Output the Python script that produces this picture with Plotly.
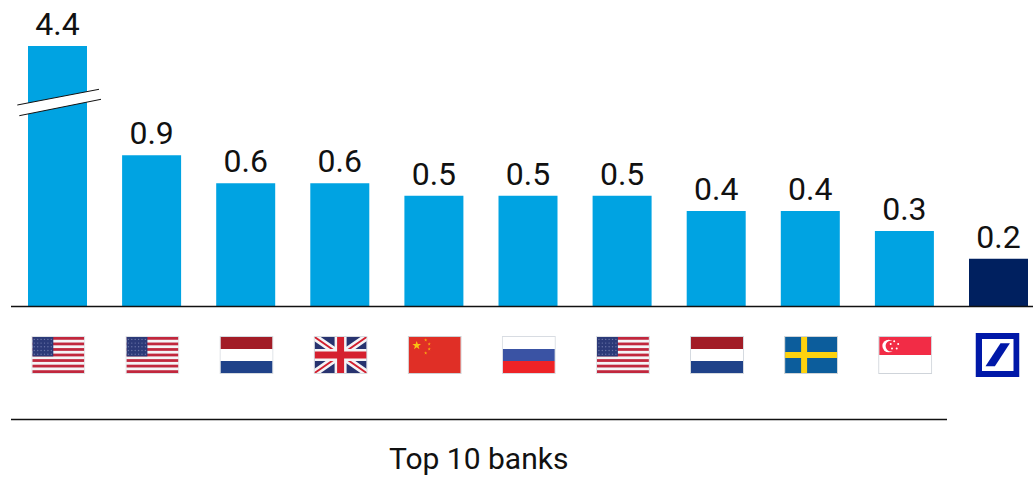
import base64
import math
import plotly.graph_objects as go

W, H = 1033, 477

# Position of each institution in the ranking and its home flag
ranks = list(range(1, 12))
flags = ["us", "us", "nl", "gb", "cn", "ru", "us", "nl", "se", "sg", "db"]
values = [4.4, 0.9, 0.6, 0.6, 0.5, 0.5, 0.5, 0.4, 0.4, 0.3, 0.2]
value_labels = ["4.4", "0.9", "0.6", "0.6", "0.5", "0.5", "0.5", "0.4", "0.4", "0.3", "0.2"]
bar_colors = ["#00A3E2"] * 10 + ["#00205F"]
footer_label = "Top 10 banks"

FONT = "Roboto"
INK = "#111111"
BASE_Y = 306.5
STEP = 94.1
FIRST_X = 57.5
DECADE_PX = 158.5


def px(x):
    return x / W


def py(y):
    return 1 - y / H


def star(cx, cy, r, fill):
    pts = []
    for i in range(10):
        a = -math.pi / 2 + i * math.pi / 5
        rad = r if i % 2 == 0 else r * 0.4
        pts.append(f"{cx + rad * math.cos(a):.2f},{cy + rad * math.sin(a):.2f}")
    return f'<polygon points="{" ".join(pts)}" fill="{fill}"/>'


def bands(colors):
    h = 36 / len(colors)
    return "".join(
        f'<rect x="0" y="{i * h}" width="52" height="{h + 0.2}" fill="{c}"/>' for i, c in enumerate(colors)
    )


def us_flag():
    h = 36 / 13
    out = '<rect width="52" height="36" fill="#f4f4f6"/>'
    for i in range(0, 13, 2):
        out += f'<rect y="{i * h:.2f}" width="52" height="{h:.2f}" fill="#c1273d"/>'
    out += '<rect width="21" height="19.4" fill="#2c3a78"/>'
    for row in range(5):
        for col in range(6):
            out += f'<circle cx="{2 + col * 3.4:.1f}" cy="{2.4 + row * 3.7:.1f}" r="0.7" fill="#6b75a8"/>'
    return out


def nl_flag():
    return bands(["#a21c26", "#ffffff", "#1f4289"])


def ru_flag():
    return bands(["#ffffff", "#3a53a4", "#ee2326"])


def gb_flag():
    return (
        '<rect width="52" height="36" fill="#28336f"/>'
        '<path d="M0 0L52 36M52 0L0 36" stroke="#f4f4f6" stroke-width="7"/>'
        '<path d="M0 0L52 36M52 0L0 36" stroke="#d2202f" stroke-width="2"/>'
        '<path d="M26 0V36M0 18H52" stroke="#f4f4f6" stroke-width="12"/>'
        '<path d="M26 0V36M0 18H52" stroke="#d5202f" stroke-width="7"/>'
    )


def cn_flag():
    out = '<rect width="52" height="36" fill="#e02f26"/>' + star(8, 8.5, 4.6, "#f8c312")
    for cx, cy in [(17, 3), (20.5, 7), (20.5, 12), (17, 16)]:
        out += star(cx, cy, 1.7, "#f8a812")
    return out


def se_flag():
    return (
        '<rect width="52" height="36" fill="#0c5d9c"/>'
        '<rect x="16" width="6" height="36" fill="#fdd20f"/>'
        '<rect y="15" width="52" height="6" fill="#fdd20f"/>'
    )


def sg_flag():
    out = (
        '<rect width="52" height="36" fill="#ffffff"/>'
        '<rect width="52" height="18" fill="#f22c46"/>'
        '<circle cx="9.5" cy="9" r="6.3" fill="#ffffff"/>'
        '<circle cx="12" cy="9" r="5.6" fill="#f22c46"/>'
    )
    for cx, cy in [(15, 4.2), (19, 7), (17.5, 11.5), (12.8, 11.5), (11.5, 7)]:
        out += f'<circle cx="{cx}" cy="{cy}" r="1" fill="#ffffff"/>'
    return out


FLAG_ART = {
    "us": (us_flag(), "#dfe2e6"),
    "nl": (nl_flag(), "#d5dae0"),
    "gb": (gb_flag(), "#d8dbe0"),
    "cn": (cn_flag(), "#cfd1d4"),
    "ru": (ru_flag(), "#d8dce2"),
    "se": (se_flag(), "#cfd4d8"),
    "sg": (sg_flag(), "#cfd4da"),
}


def data_uri(svg):
    return "data:image/svg+xml;base64," + base64.b64encode(svg.encode()).decode()


def flag_svg(code):
    art, edge = FLAG_ART[code]
    return (
        '<svg xmlns="http://www.w3.org/2000/svg" width="54" height="38" viewBox="-1 -1 54 38">'
        f'{art}<rect x="-0.5" y="-0.5" width="53" height="37" fill="none" stroke="{edge}"/></svg>'
    )


LOGO_SVG = (
    '<svg xmlns="http://www.w3.org/2000/svg" width="44" height="44" viewBox="0 0 44 44">'
    '<rect width="44" height="44" fill="#0018A8"/>'
    '<rect x="6.5" y="6" width="31.5" height="32" fill="#ffffff"/>'
    '<polygon points="25,10.3 34.4,10.3 19.4,33.3 10,33.3" fill="#0018A8"/></svg>'
)

fig = go.Figure(
    go.Bar(
        x=ranks,
        y=values,
        width=59 / STEP,
        marker=dict(color=bar_colors, line_width=0),
        text=value_labels,
        textposition="outside",
        cliponaxis=False,
        textfont=dict(family=FONT, size=32, color=INK),
        hoverinfo="skip",
    )
)

images = []
for rank, code in zip(ranks, flags):
    if code == "db":
        src, w, h, top, nudge = data_uri(LOGO_SVG), 44, 44, 333, -1
    else:
        src, w, h, top, nudge = data_uri(flag_svg(code)), 54, 38, 336, 0.8
    images.append(
        dict(
            source=src, xref="x", yref="paper", x=rank + nudge / STEP, y=py(top),
            sizex=w / STEP, sizey=h / H, xanchor="center", yanchor="top",
            sizing="stretch", layer="above",
        )
    )

shapes = [
    # Axis break across the tallest bar
    dict(
        type="path", xref="paper", yref="paper", layer="above", line_width=0, fillcolor="#ffffff",
        path=f"M{px(17.3)},{py(105)} L{px(99)},{py(89.3)} L{px(101)},{py(99.3)} L{px(19.3)},{py(115.7)} Z",
    ),
    dict(type="line", xref="paper", yref="paper", layer="above", line=dict(color="#111111", width=1),
         x0=px(17.3), y0=py(105), x1=px(99), y1=py(89.3)),
    dict(type="line", xref="paper", yref="paper", layer="above", line=dict(color="#111111", width=1),
         x0=px(19.3), y0=py(115.7), x1=px(101), y1=py(99.3)),
    # Baseline and the bracket under the peer group
    dict(type="line", xref="paper", yref="paper", layer="above", line=dict(color="#111111", width=1.5),
         x0=px(11), y0=py(BASE_Y), x1=1, y1=py(BASE_Y)),
    dict(type="line", xref="paper", yref="paper", layer="above", line=dict(color="#111111", width=1.5),
         x0=px(11), y0=py(419.5), x1=px(947), y1=py(419.5)),
]

fig.update_layout(
    width=W,
    height=H,
    margin=dict(l=0, r=0, t=0, b=0),
    paper_bgcolor="#ffffff",
    plot_bgcolor="#ffffff",
    showlegend=False,
    images=images,
    shapes=shapes,
    annotations=[
        dict(
            text=footer_label, xref="paper", yref="paper", x=px(478.5), y=0,
            xanchor="center", yanchor="bottom", showarrow=False, borderpad=0,
            font=dict(family=FONT, size=30, color=INK),
        )
    ],
    xaxis=dict(
        range=[1 - FIRST_X / STEP, 1 + (W - FIRST_X) / STEP],
        visible=False,
    ),
    yaxis=dict(
        type="log",
        domain=[py(BASE_Y), 1],
        range=[-1, -1 + BASE_Y / DECADE_PX],
        visible=False,
    ),
)

fig.write_html("out.html", config={"displayModeBar": False})
